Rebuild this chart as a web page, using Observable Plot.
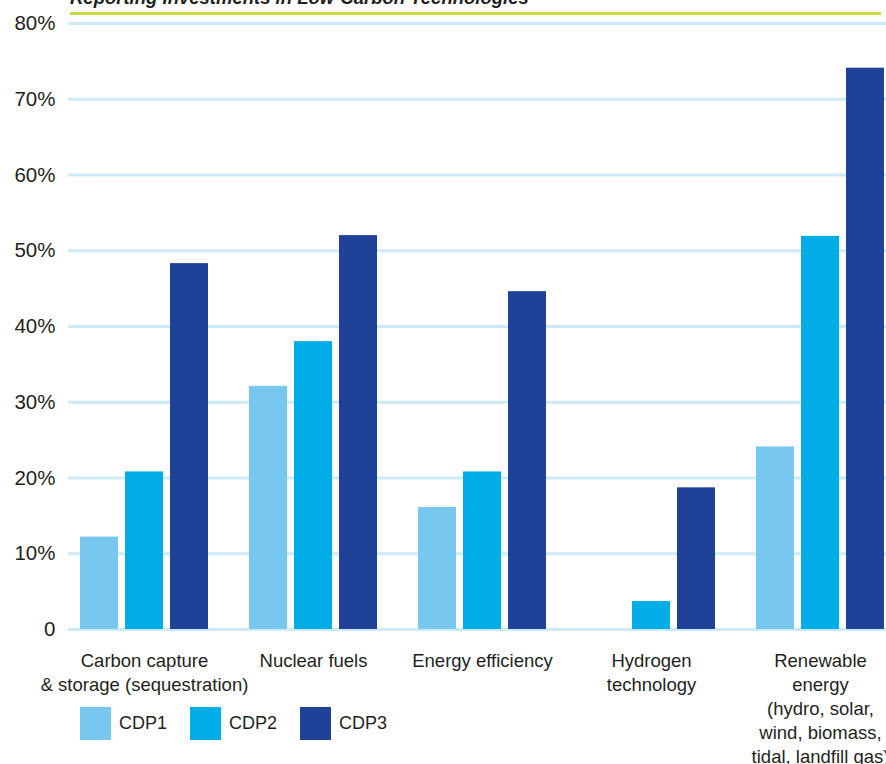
<!DOCTYPE html>
<html><head><meta charset="utf-8">
<script src="https://cdn.jsdelivr.net/npm/d3@7"></script>
<script src="https://cdn.jsdelivr.net/npm/@observablehq/plot@0.6"></script>
<style>
body{margin:0;background:#fff;font-family:"Liberation Sans",Arial,Helvetica,sans-serif;}
#wrap{position:relative;width:886px;height:764px;overflow:hidden;background:#fff;}
#title{position:absolute;left:70px;top:-12.5px;font-size:18.5px;font-weight:bold;font-style:italic;color:#231f20;white-space:nowrap;line-height:20px;}
#rule{position:absolute;left:70px;top:12px;width:811px;height:3px;background:#c9d944;}
#chart{position:absolute;left:0;top:0;}
#legend{position:absolute;left:80px;top:707px;display:flex;align-items:center;font-size:18px;color:#231f20;}
#legend .item{display:flex;align-items:center;}
#legend .sw{width:31px;height:33px;margin-right:8px;}
#legend .lab{width:71px;}
</style></head><body>
<div id="wrap">
<div id="title">Reporting Investments in Low-Carbon Technologies</div>
<div id="rule"></div>
<div id="chart"></div>
<div id="legend"></div>
</div>
<script>
const technologies = ["Carbon capture", "Nuclear fuels", "Energy efficiency", "Hydrogen technology", "Renewable energy"];
const techLabels = [
  "Carbon capture\n& storage (sequestration)",
  "Nuclear fuels",
  "Energy efficiency",
  "Hydrogen\ntechnology",
  "Renewable\nenergy\n(hydro, solar,\nwind, biomass,\ntidal, landfill gas)"
];
const series = ["CDP1", "CDP2", "CDP3"];
const cdp1 = [12.2, 32.1, 16.1, 0, 24.1];
const cdp2 = [20.8, 38.0, 20.8, 3.7, 51.9];
const cdp3 = [48.3, 52.0, 44.6, 18.7, 74.1];
const colors = ["#77c7ef", "#00ade6", "#1f4198"];
const yTicks = [0, 10, 20, 30, 40, 50, 60, 70, 80];

const values = [cdp1, cdp2, cdp3];
const rows = series.flatMap((s, i) => technologies.map((t, j) => ({tech: t, series: s, value: values[i][j]})));

const band = 128;
const barW = 38;
const step = 45;

const chart = Plot.plot({
  width: 886,
  height: 764,
  marginTop: 23,
  marginBottom: 135,
  marginLeft: 68,
  marginRight: 0,
  style: {fontFamily: '"Liberation Sans", Arial, Helvetica, sans-serif', color: "#231f20", background: "transparent", overflow: "visible"},
  x: {type: "band", domain: technologies, range: [79.5, 885], paddingInner: 0.244, paddingOuter: 0, label: null},
  y: {domain: [0, 80], label: null},
  color: {domain: series, range: colors},
  marks: [
    Plot.ruleY(yTicks, {stroke: "#cdeaf8", strokeWidth: 3}),
    ...series.map((s, i) => Plot.barY(rows.filter(d => d.series === s), {
      x: "tech", y: "value", fill: "series",
      insetLeft: i * step, insetRight: band - i * step - barW
    })),
    Plot.axisY({ticks: yTicks, tickSize: 0, tickPadding: 13, fontSize: 20.5, tickFormat: d => d === 0 ? "0" : d + "%"}),
    Plot.axisX({tickSize: 0, tickPadding: 20, fontSize: 18.5, lineHeight: 1.3, tickFormat: (d) => techLabels[technologies.indexOf(d)]})
  ]
});
document.getElementById("chart").append(chart);

const legend = document.getElementById("legend");
series.forEach((s, i) => {
  const item = document.createElement("div");
  item.className = "item";
  const sw = document.createElement("div");
  sw.className = "sw";
  sw.style.background = colors[i];
  const lab = document.createElement("div");
  lab.className = "lab";
  lab.textContent = s;
  item.append(sw, lab);
  legend.append(item);
});
</script>
</body></html>
